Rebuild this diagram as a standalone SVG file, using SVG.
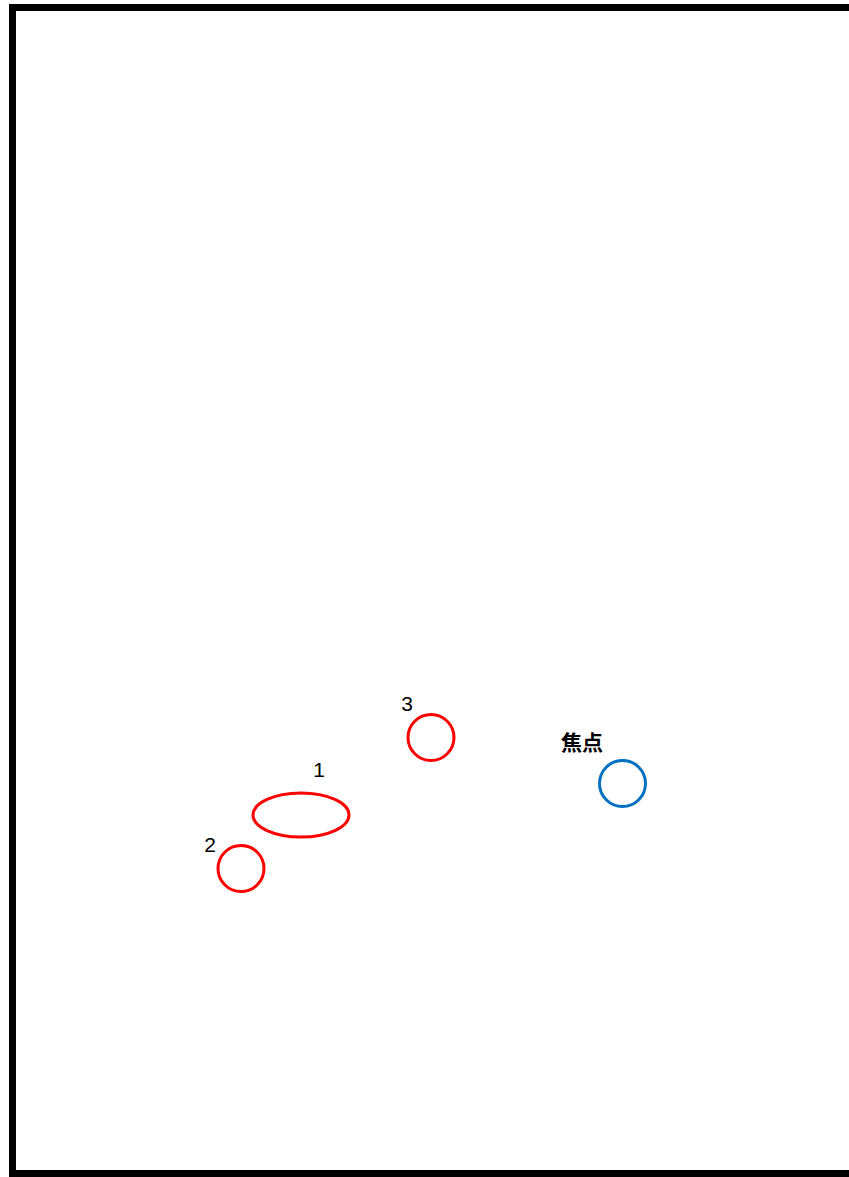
<svg xmlns="http://www.w3.org/2000/svg" width="849" height="1177" viewBox="0 0 849 1177">
<style>
.red{fill:none;stroke:#f00;stroke-width:3}
.blue{fill:none;stroke:#0070c0;stroke-width:3}
.lbl{font-family:"Liberation Sans","Noto Sans CJK JP",sans-serif;font-size:21px;fill:#000}
.cjk{font-family:"Noto Sans CJK JP",sans-serif;font-size:21px;font-weight:bold;fill:#000}
</style>
<rect x="0" y="0" width="849" height="1177" fill="#fff"/>
<path d="M856,7.5 H12.5 V1173.5 H856" fill="none" stroke="#000" stroke-width="7"/>
<g id="node1"><ellipse class="red" cx="301" cy="815" rx="48" ry="22"/><text class="lbl" x="319" y="777" text-anchor="middle">1</text></g>
<g id="node2"><circle class="red" cx="241" cy="868.5" r="23"/><text class="lbl" x="210" y="852" text-anchor="middle">2</text></g>
<g id="node3"><circle class="red" cx="431" cy="737.5" r="23"/><text class="lbl" x="407" y="710.5" text-anchor="middle">3</text></g>
<g id="focus"><circle class="blue" cx="622.5" cy="783.5" r="23"/><text class="cjk" x="582" y="750" text-anchor="middle">焦点</text></g>
<g id="connectors"></g>
</svg>
